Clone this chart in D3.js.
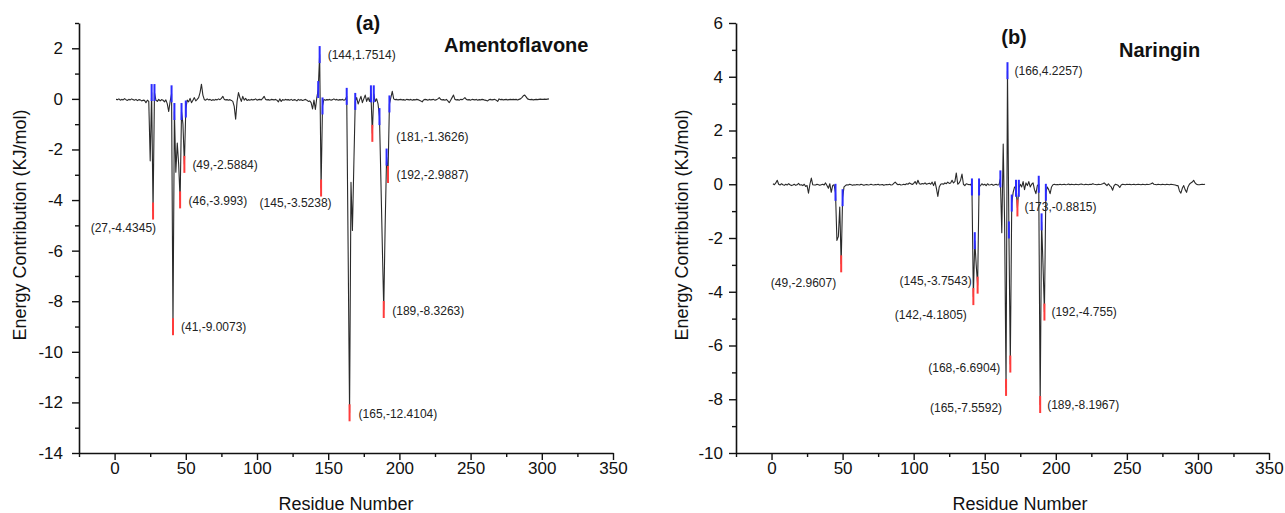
<!DOCTYPE html>
<html>
<head>
<meta charset="utf-8">
<script src="https://cdn.jsdelivr.net/npm/d3@7"></script>
<style>
  body { margin: 0; background: #fff; }
  svg { display: block; }
  text { font-family: "Liberation Sans", Arial, sans-serif; fill: #111; }
</style>
</head>
<body>
<svg id="chart" width="1285" height="513"></svg>
<script>
// energy contribution per residue, residue number = index + 1
const energyA = [
  -0.02,-0.03,0.00,-0.05,-0.02,-0.04,0.01,-0.03,-0.06,-0.02,
  -0.04,0.00,-0.03,-0.05,-0.02,-0.07,-0.03,-0.04,-0.08,-0.05,
  -0.06,-0.15,-0.05,-0.10,-2.45,0.25,-4.4345,0.25,-0.05,-0.10,
  -0.02,-0.08,-0.03,-0.05,-0.12,-0.04,-0.20,-0.50,-0.10,0.20,
  -9.0073,-0.50,-2.90,-1.75,-2.60,-3.993,-0.50,-1.00,-2.5884,-0.40,
  -0.05,-0.12,0.02,-0.15,-0.05,0.05,-0.08,-0.02,0.05,0.25,
  0.58,0.15,-0.03,-0.05,0.00,-0.04,-0.02,-0.06,-0.03,-0.05,
  -0.02,-0.04,0.00,-0.03,0.02,0.10,-0.02,-0.04,-0.03,-0.05,
  -0.03,-0.06,-0.10,-0.30,-0.80,-0.10,0.25,0.05,-0.10,0.10,
  -0.05,0.02,-0.06,-0.03,-0.05,-0.02,-0.04,-0.03,0.00,-0.05,
  -0.03,-0.02,-0.04,0.02,0.10,-0.02,-0.04,-0.03,-0.05,-0.02,
  -0.03,-0.04,-0.02,-0.05,-0.12,0.00,-0.10,-0.03,-0.05,-0.02,
  -0.04,-0.03,-0.05,-0.02,-0.06,-0.03,-0.04,-0.08,-0.02,-0.05,
  -0.03,-0.06,-0.04,-0.02,-0.05,-0.10,-0.08,-0.15,-0.40,-0.05,
  -0.42,0.05,0.37,1.7514,-3.5238,-0.28,-0.02,-0.05,-0.03,-0.04,
  -0.02,-0.05,-0.03,0.00,-0.04,-0.02,-0.05,-0.03,-0.04,-0.02,
  -0.05,-0.03,0.10,-6.00,-12.4104,-3.30,-5.20,-2.60,-0.10,0.05,
  -0.20,-0.05,0.10,-0.15,0.00,0.15,-0.10,0.05,-0.10,0.20,
  -1.3626,0.20,-0.10,0.00,-0.20,-0.70,-3.20,-5.80,-8.3263,-5.00,
  -2.30,-2.9887,-0.20,0.05,0.30,0.00,-0.03,-0.02,-0.04,-0.03,
  -0.02,-0.04,-0.03,-0.05,-0.02,-0.03,-0.04,-0.02,-0.05,-0.03,
  -0.04,-0.02,-0.03,-0.05,-0.08,-0.12,-0.04,-0.02,-0.03,-0.05,
  -0.02,-0.04,-0.03,-0.02,-0.05,-0.03,0.00,0.05,-0.02,-0.04,
  -0.03,-0.05,-0.02,-0.08,-0.15,-0.05,0.05,0.15,-0.02,-0.04,
  -0.03,-0.05,-0.02,-0.03,0.00,0.05,-0.02,-0.04,-0.03,-0.05,
  -0.02,-0.03,-0.04,-0.02,-0.05,-0.03,-0.04,-0.02,-0.03,-0.05,
  -0.06,-0.08,-0.03,-0.02,-0.04,-0.03,-0.02,-0.05,-0.10,0.00,
  -0.03,-0.02,-0.04,-0.03,-0.02,-0.04,-0.03,-0.02,-0.03,-0.02,
  -0.03,-0.02,-0.04,-0.02,0.00,0.05,0.12,0.15,0.08,0.00,
  -0.02,-0.03,-0.02,-0.04,-0.03,-0.02,-0.03,-0.02,-0.01,-0.02,
  -0.02,-0.01,-0.02,-0.01,0.00
];
const labeledA = [27, 41, 46, 49, 144, 145, 165, 181, 189, 192];
const blueA = [26, 28, 40, 42, 47, 50, 143, 146, 163, 169, 180, 182, 186, 191, 193];

const energyB = [
  0.02,-0.02,0.05,0.15,0.00,-0.03,0.02,-0.02,-0.04,0.00,
  -0.03,0.02,-0.02,-0.05,-0.03,0.00,-0.04,-0.02,0.03,-0.03,
  -0.02,-0.05,0.00,-0.08,-0.05,-0.33,0.00,0.23,-0.02,-0.03,
  -0.03,0.00,-0.02,-0.04,-0.02,0.00,-0.03,0.05,-0.05,-0.15,
  0.02,-0.30,-0.05,-0.02,-0.30,-2.09,-1.95,-0.85,-2.9607,-0.50,
  -0.10,-0.05,-0.02,-0.03,0.00,-0.02,-0.04,-0.02,-0.03,-0.01,
  -0.02,-0.03,0.00,-0.02,-0.04,-0.02,-0.01,-0.03,-0.02,0.00,
  -0.02,-0.03,-0.01,-0.02,0.00,-0.03,-0.02,-0.01,-0.04,-0.02,
  -0.01,-0.02,0.00,-0.03,-0.02,0.03,0.08,0.02,-0.02,0.00,
  -0.03,-0.02,0.00,-0.02,0.02,0.00,0.05,0.02,-0.01,0.03,
  0.10,0.00,0.15,0.02,0.00,0.03,0.01,0.05,0.00,0.02,
  0.04,0.00,0.08,-0.05,0.10,-0.15,-0.45,-0.10,0.00,0.02,
  0.00,0.05,0.02,0.08,0.03,0.05,0.15,0.05,0.10,0.42,
  0.00,0.05,0.15,0.38,0.00,-0.05,0.02,0.00,-0.02,0.00,
  -0.10,-4.1805,-2.10,-3.00,-3.7543,-0.10,-0.05,0.02,-0.03,0.00,
  -0.05,0.02,-0.03,-0.02,0.00,-0.04,-0.02,0.00,-0.03,-0.02,
  0.20,-1.80,1.50,-1.50,-7.5592,4.2257,-1.70,-6.6904,-0.70,-0.30,
  -0.10,-0.15,-0.8815,-0.15,0.00,-0.10,0.10,-0.20,0.05,-0.05,
  0.10,-0.10,0.00,0.05,-0.20,-0.35,-0.05,0.00,-8.1967,-1.40,
  -3.00,-4.755,-0.30,-0.10,-0.20,-0.35,-0.10,-0.02,0.00,-0.02,
  -0.01,-0.02,0.00,-0.02,-0.01,0.00,-0.02,-0.01,0.01,-0.02,
  0.00,-0.01,-0.02,0.00,-0.01,-0.02,0.00,0.01,-0.01,-0.02,
  0.00,-0.01,-0.02,0.00,-0.01,0.02,0.00,-0.01,-0.02,0.00,
  -0.01,0.00,0.02,0.05,0.00,-0.05,0.02,-0.05,-0.10,-0.22,
  -0.05,0.00,-0.02,-0.05,-0.12,-0.03,0.00,-0.01,-0.02,0.00,
  -0.01,0.00,-0.02,-0.01,0.00,-0.02,-0.01,0.00,-0.01,-0.02,
  0.00,-0.01,-0.02,0.00,-0.01,0.00,0.02,0.05,0.00,-0.01,
  -0.02,0.00,-0.01,-0.02,0.00,-0.01,-0.02,0.00,-0.01,-0.02,
  0.00,-0.01,-0.02,-0.03,-0.05,-0.05,-0.25,-0.33,-0.15,-0.05,
  -0.20,-0.30,-0.10,0.00,0.05,0.08,0.15,0.05,0.00,-0.02,
  -0.02,-0.01,0.00,-0.01,0.00
];
const labeledB = [49, 142, 145, 165, 166, 168, 173, 189, 192];
const blueB = [45, 50, 141, 143, 146, 161, 167, 169, 172, 174, 188, 190, 193];

const xTicks = [0, 50, 100, 150, 200, 250, 300, 350];
const xMinor = [-25, 25, 75, 125, 175, 225, 275, 325];
const yTicksA = [-14, -12, -10, -8, -6, -4, -2, 0, 2];
const yMinorA = [-13, -11, -9, -7, -5, -3, -1, 1, 3];
const yTicksB = [-10, -8, -6, -4, -2, 0, 2, 4, 6];
const yMinorB = [-9, -7, -5, -3, -1, 1, 3, 5];

// label placement relative to the point: [dx, dy, anchor]
const labelPosA = {
  27: [3, 21, "end"], 41: [8, 4, "start"], 46: [8.5, 5, "start"], 49: [8, 5, "start"],
  144: [8, 4.5, "start"], 145: [10.5, 19, "end"], 165: [9, 5, "start"],
  181: [24, 7.5, "start"], 189: [8.5, 5.5, "start"], 192: [8.5, 4.5, "start"]
};
const labelPosB = {
  49: [-5, 23, "end"], 142: [-6.5, 22.5, "end"], 145: [-6, 0, "end"],
  165: [-4, 25, "end"], 166: [7, 4, "start"], 168: [-10, 8, "end"],
  173: [7, 3.5, "start"], 189: [7, 4, "start"], 192: [7, 4, "start"]
};

const svg = d3.select("#chart");
const markHalf = 8.5;

function drawPanel(p) {
  const x = d3.scaleLinear().domain([-25, 350]).range([p.left, p.right]);
  const y = d3.scaleLinear().domain(p.yDomain).range([453, 23]);
  const g = svg.append("g");
  const pts = p.energy.map((v, i) => ({ r: i + 1, v: v }));

  // data line
  g.append("path")
    .datum(pts)
    .attr("fill", "none")
    .attr("stroke", "#2a2a2a")
    .attr("stroke-width", 1.1)
    .attr("stroke-linejoin", "round")
    .attr("d", d3.line().x(d => x(d.r)).y(d => y(d.v)));

  // blue marks at the neighbours
  g.selectAll(".blue")
    .data(p.blue)
    .enter()
    .append("line")
    .attr("x1", r => x(r)).attr("x2", r => x(r))
    .attr("y1", r => y(p.energy[r - 1]) - markHalf)
    .attr("y2", r => y(p.energy[r - 1]) + markHalf)
    .attr("stroke", "#2b2bff")
    .attr("stroke-width", 2);

  // labelled residues
  g.selectAll(".lab")
    .data(p.labeled)
    .enter()
    .append("line")
    .attr("x1", r => x(r)).attr("x2", r => x(r))
    .attr("y1", r => y(p.energy[r - 1]) - markHalf)
    .attr("y2", r => y(p.energy[r - 1]) + markHalf)
    .attr("stroke", r => p.energy[r - 1] > 0 ? "#2b2bff" : "#ff3b3b")
    .attr("stroke-width", 2);

  g.selectAll(".labtxt")
    .data(p.labeled)
    .enter()
    .append("text")
    .attr("x", r => x(r) + p.labelPos[r][0])
    .attr("y", r => y(p.energy[r - 1]) + p.labelPos[r][1])
    .attr("text-anchor", r => p.labelPos[r][2])
    .style("font-size", "12px")
    .style("fill", "#222")
    .text(r => "(" + r + "," + p.energy[r - 1] + ")");

  // axes
  g.append("g").attr("transform", "translate(0,453)")
    .call(d3.axisBottom(x).tickValues(xTicks).tickSize(7).tickSizeOuter(0)
      .tickPadding(2).tickFormat(d => String(d)));
  g.append("g").attr("transform", "translate(0,453)")
    .call(d3.axisBottom(x).tickValues(xMinor).tickSize(4).tickSizeOuter(0).tickFormat(""))
    .select(".domain").remove();
  g.append("g").attr("transform", "translate(" + p.left + ",0)")
    .call(d3.axisLeft(y).tickValues(p.yTicks).tickSize(7).tickSizeOuter(0)
      .tickPadding(p.yPad).tickFormat(d => String(d)));
  g.append("g").attr("transform", "translate(" + p.left + ",0)")
    .call(d3.axisLeft(y).tickValues(p.yMinor).tickSize(4).tickSizeOuter(0).tickFormat(""))
    .select(".domain").remove();

  g.selectAll(".domain").attr("stroke", "#111").attr("stroke-width", 1.6);
  g.selectAll(".tick line").attr("stroke", "#111").attr("stroke-width", 1.4);
  g.selectAll(".tick text").style("font-size", "17px").style("fill", "#111")
    .style("font-family", '"Liberation Sans", Arial, sans-serif');

  // axis titles
  g.append("text")
    .attr("x", p.xTitleX).attr("y", 510)
    .attr("text-anchor", "middle")
    .style("font-size", "18px")
    .text("Residue Number");
  g.append("text")
    .attr("transform", "translate(" + p.yTitleX + ",225) rotate(-90)")
    .attr("text-anchor", "middle")
    .style("font-size", "18px")
    .text("Energy Contribution (KJ/mol)");

  // panel tag and compound name
  g.append("text")
    .attr("x", p.tag[0]).attr("y", p.tag[1])
    .attr("text-anchor", "middle")
    .style("font-size", "20px").style("font-weight", "bold")
    .text(p.tagText);
  g.append("text")
    .attr("x", p.name[0]).attr("y", p.name[1])
    .style("font-size", "20px").style("font-weight", "bold")
    .text(p.nameText);
}

drawPanel({
  energy: energyA, labeled: labeledA, blue: blueA, labelPos: labelPosA,
  left: 79, right: 613, yDomain: [-14, 3], yTicks: yTicksA, yMinor: yMinorA, yPad: 9,
  xTitleX: 346, yTitleX: 26, tag: [368, 30], tagText: "(a)",
  name: [444, 52], nameText: "Amentoflavone"
});
drawPanel({
  energy: energyB, labeled: labeledB, blue: blueB, labelPos: labelPosB,
  left: 736, right: 1269, yDomain: [-10, 6], yTicks: yTicksB, yMinor: yMinorB, yPad: 6,
  xTitleX: 1020, yTitleX: 688, tag: [1014, 44], tagText: "(b)",
  name: [1119, 57], nameText: "Naringin"
});
</script>
</body>
</html>
